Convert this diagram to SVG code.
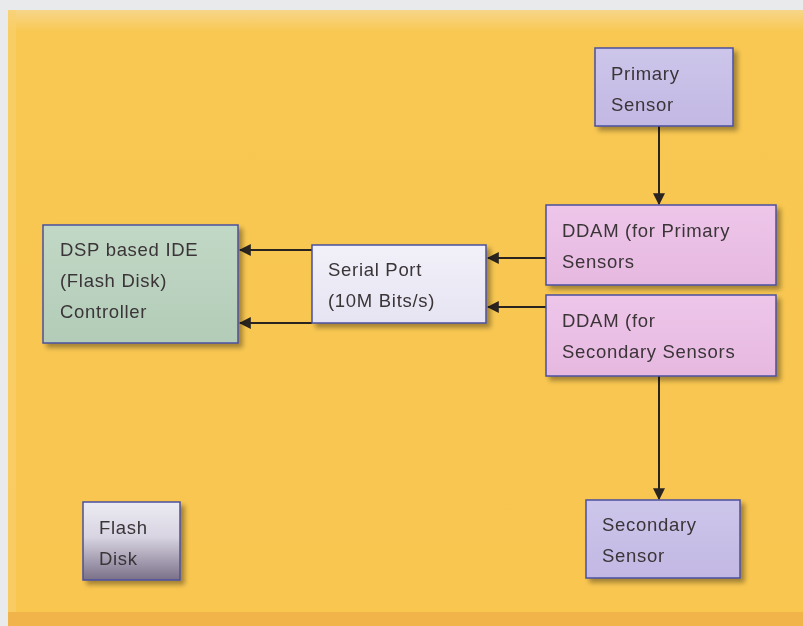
<svg xmlns="http://www.w3.org/2000/svg" width="803" height="626" viewBox="0 0 803 626">
<defs>
<style>
.t{font-family:"Liberation Sans",Arial,sans-serif;font-size:18.5px;fill:#3a3438;letter-spacing:0.7px}
.box{stroke:#4a50a0;stroke-width:1.5}
.c{stroke:#2a2420;stroke-width:2;fill:none}
</style>
<filter id="sh" x="-10%" y="-10%" width="130%" height="140%">
<feGaussianBlur in="SourceAlpha" stdDeviation="2.5"/>
<feOffset dx="4" dy="4" result="b"/>
<feComponentTransfer><feFuncA type="linear" slope="0.35"/></feComponentTransfer>
<feMerge><feMergeNode/><feMergeNode in="SourceGraphic"/></feMerge>
</filter>
<linearGradient id="bg" x1="0" y1="0" x2="0" y2="1">
<stop offset="0" stop-color="#f7d68a"/>
<stop offset="0.035" stop-color="#f8c852"/>
<stop offset="1" stop-color="#f9c650"/>
</linearGradient>
<linearGradient id="fd" x1="0" y1="0" x2="0" y2="1">
<stop offset="0" stop-color="#ecebf2"/>
<stop offset="0.45" stop-color="#d8d4e2"/>
<stop offset="1" stop-color="#7a7088"/>
</linearGradient>
<linearGradient id="lav" x1="0" y1="0" x2="0" y2="1">
<stop offset="0" stop-color="#cdc6ea"/>
<stop offset="1" stop-color="#c2b8e4"/>
</linearGradient>
<linearGradient id="pink" x1="0" y1="0" x2="0" y2="1">
<stop offset="0" stop-color="#eec6ea"/>
<stop offset="1" stop-color="#e6b8e0"/>
</linearGradient>
<linearGradient id="grn" x1="0" y1="0" x2="0" y2="1">
<stop offset="0" stop-color="#c2d8c6"/>
<stop offset="1" stop-color="#b2ccb8"/>
</linearGradient>
<linearGradient id="wht" x1="0" y1="0" x2="0" y2="1">
<stop offset="0" stop-color="#f2f0f8"/>
<stop offset="1" stop-color="#e6e4f2"/>
</linearGradient>
<marker id="ah" viewBox="0 0 10 10" refX="9" refY="5" markerWidth="6" markerHeight="6" orient="auto" markerUnits="strokeWidth">
<path d="M0,0 L10,5 L0,10 z" fill="#2a2420"/>
</marker>
</defs>
<rect x="0" y="0" width="803" height="626" fill="#e9eaec"/>
<rect x="8" y="10" width="795" height="616" fill="url(#bg)"/>
<rect x="8" y="612" width="795" height="14" fill="#f0b44a"/>
<rect x="8" y="10" width="8" height="602" fill="#f8d070" opacity="0.6"/>
<g id="connectors">
<line class="c" x1="659" y1="126" x2="659" y2="204" marker-end="url(#ah)"/>
<line class="c" x1="659" y1="376" x2="659" y2="499" marker-end="url(#ah)"/>
<line class="c" x1="546" y1="258" x2="488" y2="258" marker-end="url(#ah)"/>
<line class="c" x1="546" y1="307" x2="488" y2="307" marker-end="url(#ah)"/>
<line class="c" x1="312" y1="250" x2="240" y2="250" marker-end="url(#ah)"/>
<line class="c" x1="312" y1="323" x2="240" y2="323" marker-end="url(#ah)"/>
</g>
<g id="primary-sensor" filter="url(#sh)">
<rect class="box" x="595" y="48" width="138" height="78" fill="url(#lav)"/>
<text class="t" x="611" y="80">Primary</text>
<text class="t" x="611" y="111">Sensor</text>
</g>
<g id="ddam-primary" filter="url(#sh)">
<rect class="box" x="546" y="205" width="230" height="80" fill="url(#pink)"/>
<text class="t" x="562" y="237">DDAM (for Primary</text>
<text class="t" x="562" y="268">Sensors</text>
</g>
<g id="ddam-secondary" filter="url(#sh)">
<rect class="box" x="546" y="295" width="230" height="81" fill="url(#pink)"/>
<text class="t" x="562" y="327">DDAM (for</text>
<text class="t" x="562" y="358">Secondary Sensors</text>
</g>
<g id="serial-port" filter="url(#sh)">
<rect class="box" x="312" y="245" width="174" height="78" fill="url(#wht)"/>
<text class="t" x="328" y="276">Serial Port</text>
<text class="t" x="328" y="307">(10M Bits/s)</text>
</g>
<g id="dsp-controller" filter="url(#sh)">
<rect class="box" x="43" y="225" width="195" height="118" fill="url(#grn)"/>
<text class="t" x="60" y="256">DSP based IDE</text>
<text class="t" x="60" y="287">(Flash Disk)</text>
<text class="t" x="60" y="318">Controller</text>
</g>
<g id="flash-disk" filter="url(#sh)">
<rect class="box" x="83" y="502" width="97" height="78" fill="url(#fd)"/>
<text class="t" x="99" y="534">Flash</text>
<text class="t" x="99" y="565">Disk</text>
</g>
<g id="secondary-sensor" filter="url(#sh)">
<rect class="box" x="586" y="500" width="154" height="78" fill="url(#lav)"/>
<text class="t" x="602" y="531">Secondary</text>
<text class="t" x="602" y="562">Sensor</text>
</g>
</svg>
